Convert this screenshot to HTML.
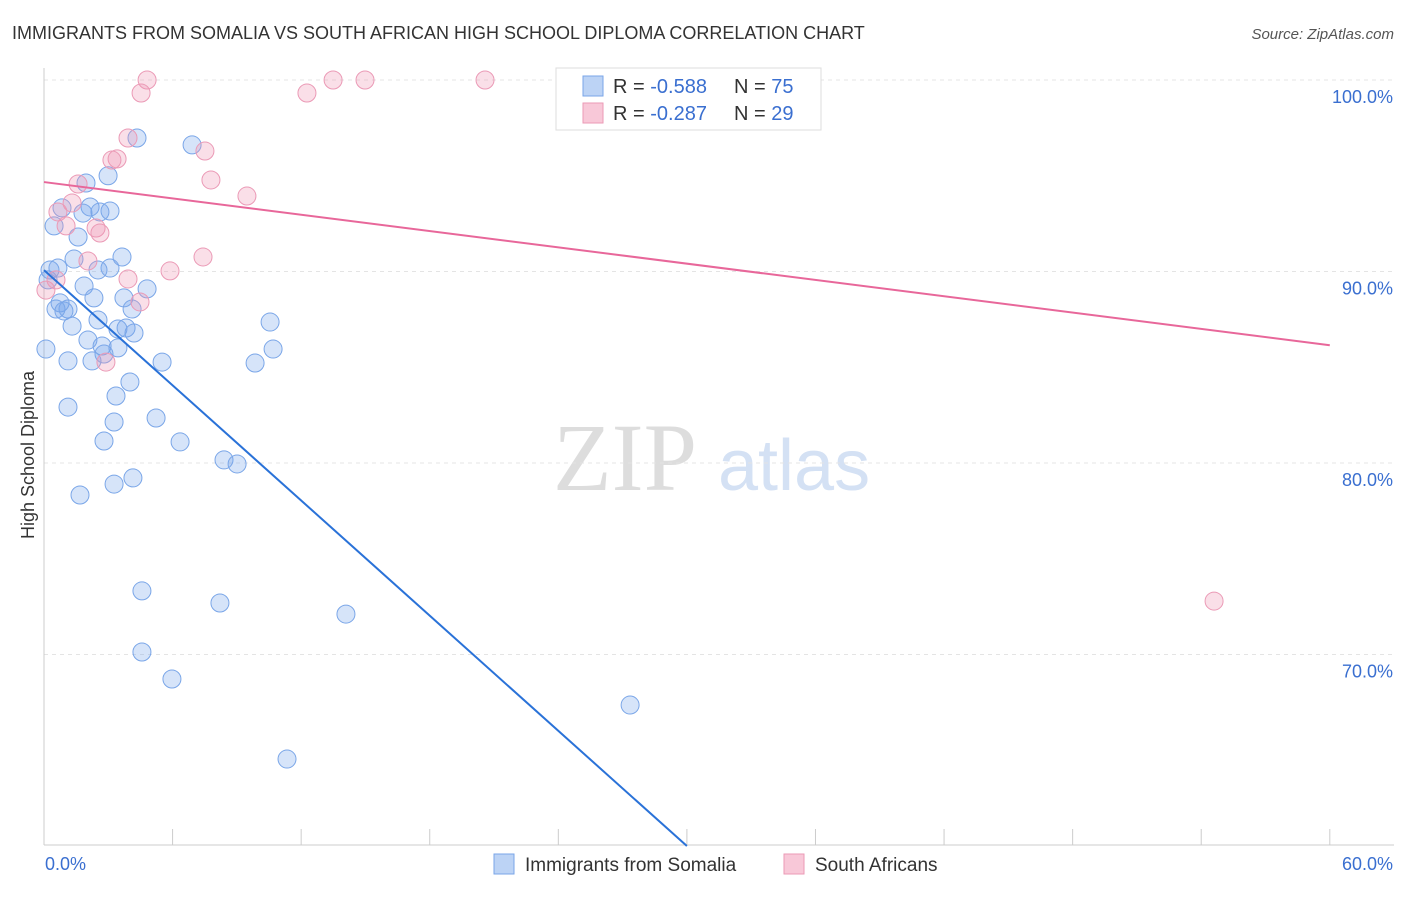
<!DOCTYPE html>
<html><head><meta charset="utf-8"><style>
body{margin:0;background:#fff;font-family:"Liberation Sans",sans-serif}
</style></head><body>
<svg id="chart" width="1406" height="892" xmlns="http://www.w3.org/2000/svg" font-family="Liberation Sans, sans-serif">
<text x="12" y="39" font-size="18" fill="#333">IMMIGRANTS FROM SOMALIA VS SOUTH AFRICAN HIGH SCHOOL DIPLOMA CORRELATION CHART</text>
<text x="1394" y="39" font-size="15" fill="#555" text-anchor="end" font-style="italic">Source: ZipAtlas.com</text>
<text x="553" y="490" font-size="96" fill="#ddd" font-family="Liberation Serif, serif">ZIP</text>
<text x="718" y="490" font-size="72" fill="#d4e1f4">atlas</text>
<text transform="translate(34,455) rotate(-90)" font-size="18" fill="#333" text-anchor="middle">High School Diploma</text>
<g id="grid"></g><g id="axes"></g><g id="marks"></g>
<g>
<rect x="556" y="68" width="265" height="62" fill="#fff" stroke="#ddd"/>
<rect x="583" y="76" width="20" height="20" fill="#bcd3f5" stroke="#7aa6e8"/>
<text x="613" y="93" font-size="20" fill="#333">R = <tspan fill="#3a6fd0">-0.588</tspan></text>
<text x="734" y="93" font-size="20" fill="#333">N = <tspan fill="#3a6fd0">75</tspan></text>
<rect x="583" y="103" width="20" height="20" fill="#f8c8d8" stroke="#eb9ab6"/>
<text x="613" y="120" font-size="20" fill="#333">R = <tspan fill="#3a6fd0">-0.287</tspan></text>
<text x="734" y="120" font-size="20" fill="#333">N = <tspan fill="#3a6fd0">29</tspan></text>
</g>
<g>
<rect x="494" y="854" width="20" height="20" fill="#bcd3f5" stroke="#7aa6e8"/>
<text x="525" y="871" font-size="19" fill="#333">Immigrants from Somalia</text>
<rect x="784" y="854" width="20" height="20" fill="#f8c8d8" stroke="#eb9ab6"/>
<text x="815" y="871" font-size="19" fill="#333">South Africans</text>
</g>
</svg>
<script>
const blueX=[4.34,6.91,2.99,1.96,0.84,2.15,3.08,2.61,1.82,0.47,1.59,3.64,1.4,0.28,0.65,3.08,2.52,0.19,1.87,4.81,3.73,2.33,0.75,0.56,1.12,0.93,4.11,2.52,10.55,1.31,3.83,3.45,4.2,2.05,2.71,3.45,0.09,2.8,10.69,1.12,2.24,5.51,9.85,4.01,3.36,1.12,5.23,3.27,2.8,6.35,8.4,9.01,4.15,3.27,1.68,4.57,8.21,14.09,4.57,5.97,27.35,11.34];
const blueY=[96.97,96.61,95.0,94.62,93.32,93.37,93.16,93.11,93.05,92.38,91.8,90.76,90.65,90.08,90.18,90.18,90.08,89.56,89.24,89.09,88.62,88.62,88.36,88.04,88.04,87.94,88.04,87.47,87.36,87.15,87.05,87.0,86.79,86.42,86.11,86.01,85.95,85.69,85.95,85.33,85.33,85.27,85.22,84.23,83.5,82.92,82.35,82.14,81.15,81.1,80.16,79.95,79.22,78.9,78.33,73.32,72.69,72.11,70.13,68.72,67.36,64.54];
const pinkX=[4.81,4.53,12.27,13.49,14.98,20.58,33.6,3.92,3.41,7.51,3.17,7.79,9.47,1.59,1.31,0.65,2.43,1.03,2.61,2.05,7.42,5.88,3.92,0.56,0.09,4.48,2.89,54.6];
const pinkY=[100,99.32,99.32,100,100,100,99.9,96.97,95.88,96.29,95.82,94.78,93.94,94.57,93.58,93.11,92.27,92.38,92.01,90.55,90.76,90.03,89.61,89.56,89.03,88.41,85.27,72.79];
const blueLine=[[0,90.07],[30,60]];
const pinkLine=[[0,94.67],[60,86.15]];
const yTicks=[100,90,80,70];
const xTicks=[0,6,12,18,24,30,36,42,48,54,60];
const NS='http://www.w3.org/2000/svg';
const sx=v=>44+v*21.43, sy=v=>80+(100-v)*19.15;
function mk(p,t,a){const e=document.createElementNS(NS,t);for(const k in a)e.setAttribute(k,a[k]);document.getElementById(p).appendChild(e);return e;}
yTicks.forEach(t=>{const g=mk('grid','line',{x1:44,x2:1394,y1:sy(t),y2:sy(t),stroke:'#e4e4e4','stroke-dasharray':'4,4'});


const l=mk('axes','text',{x:1393,y:sy(t)+23,'font-size':18,fill:'#3a6fd0','text-anchor':'end'});l.textContent=t.toFixed(1)+'%';

});
const ax=mk('axes','line',{x1:44,x2:44,y1:68,y2:845,stroke:'#ccc'});


const bx=mk('axes','line',{x1:44,x2:1394,y1:845,y2:845,stroke:'#ccc'});


xTicks.forEach(t=>{const e=mk('axes','line',{x1:sx(t),x2:sx(t),y1:829,y2:845,stroke:'#ccc'});

});
[[0,'start'],[60,'end']].forEach(([t,a])=>{const l=mk('axes','text',{x:t?1393:45,y:870,'font-size':18,fill:'#3a6fd0','text-anchor':a});l.textContent=t.toFixed(1)+'%';

});
function pts(X,Y,f,s,n){X.forEach((x,i)=>{const c=mk('marks','circle',{cx:sx(x),cy:sy(Y[i]),r:9,fill:f,stroke:s,'stroke-width':1});

});}
pts(blueX,blueY,'rgba(120,165,235,0.3)','#7aa6e8','somalia-point');
pts(pinkX,pinkY,'rgba(240,150,180,0.3)','#eb9ab6','south-african-point');
const b=mk('marks','line',{x1:sx(blueLine[0][0]),y1:sy(blueLine[0][1]),x2:sx(blueLine[1][0]),y2:sy(blueLine[1][1]),stroke:'#2a72d8','stroke-width':2});


const p=mk('marks','line',{x1:sx(pinkLine[0][0]),y1:sy(pinkLine[0][1]),x2:sx(pinkLine[1][0]),y2:sy(pinkLine[1][1]),stroke:'#e8679a','stroke-width':2});


</script>
</body></html>
